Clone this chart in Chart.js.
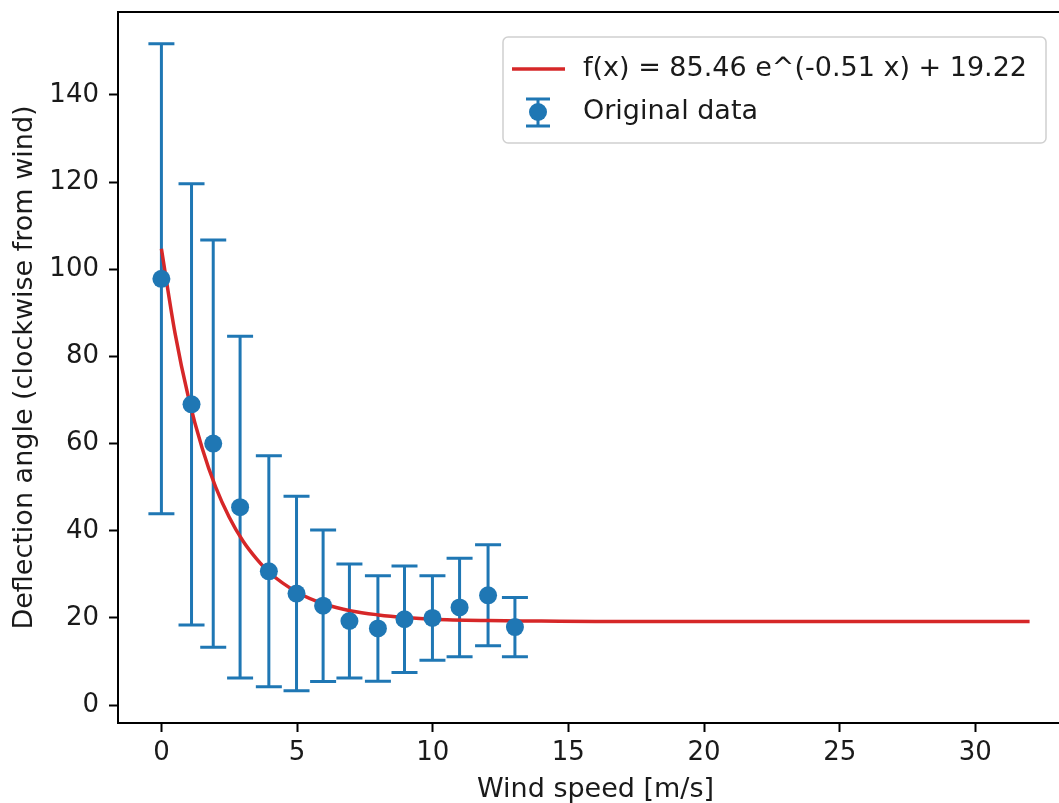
<!DOCTYPE html>
<html>
<head>
<meta charset="utf-8">
<script src="https://cdn.jsdelivr.net/npm/chart.js@4/dist/chart.umd.min.js"></script>
<style>
  html, body { margin: 0; padding: 0; background: #fff; overflow: hidden; }
  #wrap { width: 1059px; height: 803px; overflow: hidden; }
  canvas { display: block; }
</style>
</head>
<body>
<div id="wrap"><canvas id="chart" width="1082" height="803"></canvas></div>
<script>
// measured wind speed bins and the mean deflection angle with its spread
const windSpeed = [0, 1.11, 1.91, 2.9, 3.96, 4.98, 5.96, 6.93, 7.98, 8.96, 9.99, 10.99, 12.04, 13.03];
const meanAngle = [97.8, 69.0, 60.0, 45.4, 30.7, 25.6, 22.8, 19.3, 17.6, 19.7, 20.0, 22.4, 25.2, 17.9];
const angleErr = [53.9, 50.6, 46.7, 39.2, 26.5, 22.3, 17.4, 13.1, 12.1, 12.2, 9.7, 11.3, 11.6, 6.8];

// points
const fitX = [0, 0.5, 1, 1.5, 2, 2.5, 3, 3.5, 4, 5, 6, 7, 8, 9, 10, 12, 14, 16, 20, 32];
const fitY = [104.7, 85.4, 70.5, 59.0, 50.0, 43.1, 37.7, 33.6, 30.3, 25.9, 23.2, 21.6, 20.7, 20.1, 19.7, 19.4, 19.3, 19.2, 19.2, 19.2];

const xTickValues = [0, 5, 10, 15, 20, 25, 30];
const yTickValues = [0, 20, 40, 60, 80, 100, 120, 140];

const fitLabel = 'f(x) = 85.46 e^(-0.51 x) + 19.22';
const dataLabel = 'Original data';

const blue = '#1f77b4';
const red = '#d62728';
const textColor = '#1a1a1a';
const tickFont = { family: '"DejaVu Sans", sans-serif', size: 26, lineHeight: 1 };
const titleFont = { family: '"DejaVu Sans", sans-serif', size: 27, lineHeight: 1 };

const errorBars = {
  id: 'errorBars',
  beforeDatasetsDraw(chart) {
    const {ctx, scales: {x, y}} = chart;
    ctx.save();
    ctx.strokeStyle = blue;
    ctx.lineWidth = 3;
    windSpeed.forEach((v, i) => {
      const px = x.getPixelForValue(v);
      const top = y.getPixelForValue(meanAngle[i] + angleErr[i]);
      const bot = y.getPixelForValue(meanAngle[i] - angleErr[i]);
      ctx.beginPath();
      ctx.moveTo(px, top); ctx.lineTo(px, bot);
      ctx.moveTo(px - 13, top); ctx.lineTo(px + 13, top);
      ctx.moveTo(px - 13, bot); ctx.lineTo(px + 13, bot);
      ctx.stroke();
    });
    ctx.restore();
  }
};

const frameAndLegend = {
  id: 'frameAndLegend',
  afterDraw(chart) {
    const {ctx, chartArea: a} = chart;
    ctx.save();
    // top spine
    ctx.strokeStyle = '#000';
    ctx.lineWidth = 2;
    ctx.beginPath();
    ctx.moveTo(a.left - 1, a.top);
    ctx.lineTo(a.right, a.top);
    ctx.stroke();

    // legend box
    ctx.fillStyle = 'rgba(255,255,255,0.8)';
    ctx.strokeStyle = '#d0d0d0';
    ctx.lineWidth = 1.5;
    ctx.beginPath();
    ctx.roundRect(503, 37, 543, 106, 5);
    ctx.fill();
    ctx.stroke();

    ctx.strokeStyle = red;
    ctx.lineWidth = 3.5;
    ctx.beginPath();
    ctx.moveTo(512, 69);
    ctx.lineTo(565, 69);
    ctx.stroke();

    ctx.strokeStyle = blue;
    ctx.lineWidth = 3;
    ctx.beginPath();
    ctx.moveTo(538, 99); ctx.lineTo(538, 126);
    ctx.moveTo(526, 99); ctx.lineTo(550, 99);
    ctx.moveTo(526, 126); ctx.lineTo(550, 126);
    ctx.stroke();
    ctx.fillStyle = blue;
    ctx.beginPath();
    ctx.arc(538, 112, 9, 0, Math.PI * 2);
    ctx.fill();

    ctx.fillStyle = textColor;
    ctx.font = '27px "DejaVu Sans", sans-serif';
    ctx.textBaseline = 'middle';
    ctx.fillText(fitLabel, 583, 69);
    ctx.fillText(dataLabel, 583, 112);
    ctx.restore();
  }
};

new Chart(document.getElementById('chart'), {
  type: 'scatter',
  data: {
    datasets: [
      {
        label: dataLabel,
        data: windSpeed.map((v, i) => ({x: v, y: meanAngle[i]})),
        backgroundColor: blue,
        borderWidth: 0,
        pointRadius: 9,
        order: 0
      },
      {
        type: 'line',
        label: fitLabel,
        data: fitX.map((v, i) => ({x: v, y: fitY[i]})),
        borderColor: red,
        borderWidth: 3.5,
        pointRadius: 0,
        fill: false,
        cubicInterpolationMode: 'monotone',
        order: 1
      }
    ]
  },
  options: {
    responsive: false,
    animation: false,
    devicePixelRatio: 1,
    layout: { padding: { top: 12, right: 2, left: 0, bottom: 0 } },
    plugins: { legend: { display: false }, tooltip: { enabled: false } },
    scales: {
      x: {
        type: 'linear',
        min: -1.6,
        max: 33.6,
        afterBuildTicks: s => { s.ticks = xTickValues.map(v => ({value: v})); },
        afterFit: s => { s.height = 80; s.paddingLeft = 0; s.paddingRight = 0; },
        ticks: { font: tickFont, color: textColor, padding: 8, maxRotation: 0 },
        grid: { drawOnChartArea: false, drawTicks: true, tickLength: 9, tickWidth: 2, tickColor: '#000' },
        border: { color: '#000', width: 2 },
        title: { display: true, text: 'Wind speed [m/s]', font: titleFont, color: textColor, padding: { top: 0, bottom: 0 } }
      },
      y: {
        type: 'linear',
        min: -4.1,
        max: 159.0,
        afterBuildTicks: s => { s.ticks = yTickValues.map(v => ({value: v})); },
        afterFit: s => { s.width = 118; s.paddingTop = 0; s.paddingBottom = 0; },
        ticks: { font: tickFont, color: textColor, padding: 10 },
        grid: { drawOnChartArea: false, drawTicks: true, tickLength: 9, tickWidth: 2, tickColor: '#000' },
        border: { color: '#000', width: 2 },
        title: { display: true, text: 'Deflection angle (clockwise from wind)', font: titleFont, color: textColor, padding: { top: 11, bottom: 0 } }
      }
    }
  },
  plugins: [errorBars, frameAndLegend]
});
</script>
</body>
</html>
